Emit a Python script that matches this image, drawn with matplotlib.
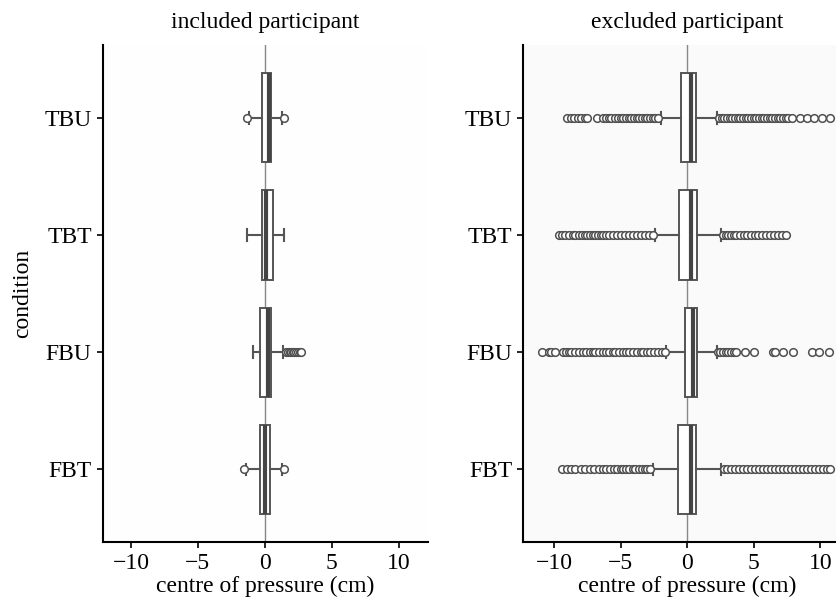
import matplotlib
matplotlib.use("Agg")
import matplotlib.pyplot as plt

plt.rcParams['font.family'] = ['Liberation Serif', 'DejaVu Serif']
plt.rcParams['font.size'] = 17

conditions = ["TBU", "TBT", "FBU", "FBT"]
panel_titles = ["included participant", "excluded participant"]

# box stats per condition: q1, median, q3, lower whisker, upper whisker
inc_q1 = [-0.22, -0.22, -0.37, -0.37]
inc_med = [0.3, 0.1, 0.25, 0.05]
inc_q3 = [0.45, 0.6, 0.45, 0.37]
inc_lo = [-1.2, -1.34, -0.9, -1.4]
inc_hi = [1.27, 1.42, 1.4, 1.3]
inc_fliers = [
    [-1.35, 1.45],
    [],
    [1.55, 1.7, 1.85, 1.95, 2.1, 2.2, 2.35, 2.5, 2.6, 2.72],
    [-1.55, 1.45],
]

exc_q1 = [-0.45, -0.6, -0.2, -0.7]
exc_med = [0.3, 0.3, 0.45, 0.25]
exc_q3 = [0.67, 0.75, 0.75, 0.67]
exc_lo = [-2.0, -2.4, -1.6, -2.6]
exc_hi = [2.25, 2.55, 2.25, 2.55]
exc_fliers = [
    [-9.0, -8.7, -8.5, -8.2, -8.0, -7.7, -7.5, -6.8, -6.3, -6.1, -5.9, -5.7,
     -5.4, -5.2, -5.0, -4.8, -4.6, -4.4, -4.2, -4.0, -3.8, -3.6, -3.4, -3.2,
     -3.0, -2.8, -2.6, -2.4, -2.2,
     2.4, 2.6, 2.8, 3.0, 3.2, 3.4, 3.6, 3.8, 4.0, 4.2, 4.4, 4.6, 4.8, 5.0,
     5.2, 5.4, 5.6, 5.8, 6.0, 6.2, 6.4, 6.6, 6.8, 7.0, 7.2, 7.4, 7.6, 7.9,
     8.5, 9.0, 9.5, 10.1, 10.7],
    [-9.6, -9.4, -9.2, -8.9, -8.6, -8.4, -8.1, -7.9, -7.7, -7.5, -7.3, -7.1,
     -6.9, -6.7, -6.5, -6.3, -6.1, -5.9, -5.6, -5.3, -5.0, -4.7, -4.4, -4.1,
     -3.8, -3.5, -3.2, -2.9, -2.6,
     2.7, 2.9, 3.1, 3.3, 3.5, 3.7, 4.0, 4.3, 4.5, 4.8, 5.1, 5.3, 5.6, 5.9,
     6.2, 6.5, 6.8, 7.1, 7.4],
    [-10.9, -10.4, -10.2, -9.9, -9.3, -9.1, -8.9, -8.7, -8.4, -8.1, -7.8,
     -7.6, -7.3, -7.1, -6.9, -6.6, -6.3, -6.1, -5.9, -5.6, -5.4, -5.1, -4.8,
     -4.6, -4.4, -4.1, -3.8, -3.5, -3.3, -3.0, -2.8, -2.5, -2.2, -1.9, -1.7,
     2.3, 2.5, 2.7, 2.9, 3.1, 3.3, 3.5, 3.7, 4.35, 5.0, 6.45, 6.6, 7.2, 7.95,
     9.35, 9.9, 10.65],
    [-9.4, -9.0, -8.7, -8.4, -8.0, -7.7, -7.3, -7.0, -6.6, -6.3, -6.1, -5.8,
     -5.5, -5.3, -5.0, -4.8, -4.6, -4.4, -4.1, -3.9, -3.6, -3.4, -3.2, -3.0,
     -2.8,
     2.8, 3.0, 3.3, 3.6, 3.9, 4.2, 4.5, 4.8, 5.1, 5.4, 5.7, 6.0, 6.3, 6.6,
     6.9, 7.2, 7.5, 7.8, 8.1, 8.4, 8.7, 9.0, 9.3, 9.6, 9.9, 10.2, 10.5, 10.7],
]


def make_stats(q1, med, q3, lo, hi, fliers):
    stats = []
    for i in range(len(q1)):
        stats.append({"q1": q1[i], "med": med[i], "q3": q3[i],
                      "whislo": lo[i], "whishi": hi[i], "fliers": fliers[i]})
    return stats


fig = plt.figure(figsize=(8.36, 6.01), dpi=100)
ax1 = fig.add_axes([0.123, 0.098, 0.389, 0.827])
ax2 = fig.add_axes([0.626, 0.098, 0.392, 0.827])

panels = [
    (ax1, make_stats(inc_q1, inc_med, inc_q3, inc_lo, inc_hi, inc_fliers), (-12.1, 12.2), '#fefefe'),
    (ax2, make_stats(exc_q1, exc_med, exc_q3, exc_lo, exc_hi, exc_fliers), (-12.3, 12.3), '#fafafa'),
]

edge = '#555555'
for k, (ax, stats, xl, bg) in enumerate(panels):
    ax.set_facecolor(bg)
    ax.axvline(0, color='#888888', lw=1, zorder=0)
    ax.bxp(stats, positions=range(len(conditions)), widths=0.76,
           orientation='horizontal', patch_artist=True, capwidths=0.1,
           boxprops=dict(facecolor='white', edgecolor=edge, lw=1.4),
           medianprops=dict(color='#444444', lw=3),
           whiskerprops=dict(color=edge, lw=1.5),
           capprops=dict(color=edge, lw=1.5),
           flierprops=dict(marker='o', markersize=5.5, markerfacecolor='white',
                           markeredgecolor='#505050', markeredgewidth=1.1))
    ax.set_xlim(*xl)
    ax.set_ylim(3.62, -0.62)
    ax.set_yticks(range(len(conditions)))
    ax.set_yticklabels(conditions)
    ax.set_xticks([-10, -5, 0, 5, 10])
    ax.set_xlabel("centre of pressure (cm)", labelpad=1)
    ax.set_title(panel_titles[k], fontsize=17, pad=12)
    for s in ['top', 'right']:
        ax.spines[s].set_visible(False)
    for s in ['left', 'bottom']:
        ax.spines[s].set_linewidth(1.5)
    ax.tick_params(direction='out', length=4, width=1.2, pad=4)

ax2.set_title(panel_titles[1], fontsize=17, pad=12, x=(0 + 12.3) / 24.6)
ax1.set_ylabel("condition", labelpad=8)

fig.savefig("out.png", dpi=100)
